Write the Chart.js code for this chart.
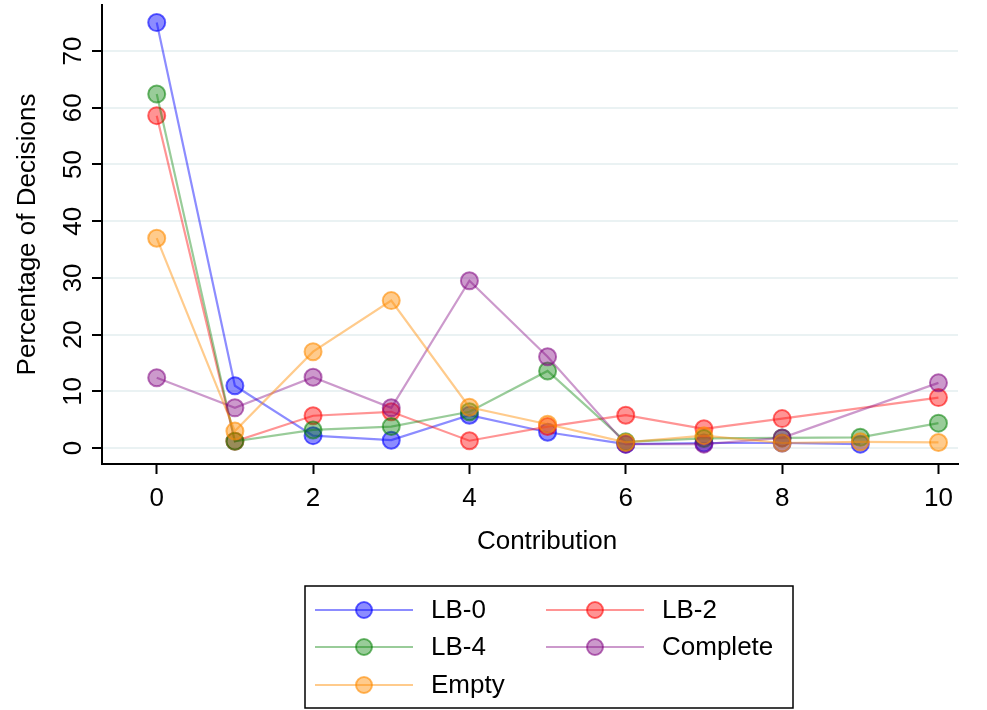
<!DOCTYPE html>
<html>
<head>
<meta charset="utf-8">
<script src="https://cdn.jsdelivr.net/npm/chart.js@4.4.1/dist/chart.umd.min.js"></script>
<style>
  html, body { margin: 0; padding: 0; background: #fff; }
  #c { display: block; }
</style>
</head>
<body>
<canvas id="c" width="987" height="710"></canvas>
<script>
const contributions = [0, 1, 2, 3, 4, 5, 6, 7, 8, 9, 10];
const lb0      = [75.0, 11.0, 2.2, 1.4, 5.8, 2.8, 0.7, 0.9, 0.9, 0.7, null];
const lb2      = [58.6, 1.2, 5.7, 6.4, 1.3, 3.8, 5.8, 3.4, 5.2, null, 8.9];
const lb4      = [62.4, 1.2, 3.2, 3.8, 6.4, 13.6, 1.1, 1.7, 1.8, 1.9, 4.4];
const empty    = [37.0, 3.0, 17.0, 26.0, 7.2, 4.2, 1.0, 2.2, 0.9, 1.1, 1.0];
const complete = [12.4, 7.1, 12.5, 7.1, 29.5, 16.1, 0.7, 0.7, 1.8, null, 11.5];
const xTicks = [0, 2, 4, 6, 8, 10];
const yTicks = [0, 10, 20, 30, 40, 50, 60, 70];

const FONT = "'Liberation Sans', Arial, sans-serif";

function series(label, values, rgb, a, order) {
  return {
    label,
    order,
    data: values.map((v, i) => ({ x: contributions[i], y: v })),
    borderColor: `rgba(${rgb},${a})`,
    backgroundColor: `rgba(${rgb},${a})`,
    pointBackgroundColor: `rgba(${rgb},${a})`,
    pointBorderColor: `rgba(${rgb},${a + 0.15})`,
    pointRadius: 8.5,
    pointBorderWidth: 2,
    borderWidth: 2.2,
    spanGaps: true,
    tension: 0
  };
}

// legend order: LB-0, LB-2 / LB-4, Complete / Empty (Empty drawn on top)
const datasets = [
  series("LB-0", lb0, "0,0,255", 0.45, 5),
  series("LB-2", lb2, "255,0,0", 0.42, 4),
  series("LB-4", lb4, "0,128,0", 0.4, 3),
  series("Complete", complete, "128,0,128", 0.4, 2),
  series("Empty", empty, "255,140,0", 0.45, 1)
];

// rotated y tick labels, axis titles and the boxed legend
const decorations = {
  id: "decorations",
  afterDraw(chart) {
    const ctx = chart.ctx;
    const y = chart.scales.y;
    ctx.save();
    ctx.fillStyle = "#000";
    ctx.font = `26px ${FONT}`;
    ctx.textAlign = "center";
    ctx.textBaseline = "alphabetic";
    yTicks.forEach(t => {
      ctx.save();
      ctx.translate(81, y.getPixelForValue(t));
      ctx.rotate(-Math.PI / 2);
      ctx.fillText(String(t), 0, 0);
      ctx.restore();
    });

    ctx.save();
    ctx.translate(35, (chart.chartArea.top + chart.chartArea.bottom) / 2);
    ctx.rotate(-Math.PI / 2);
    ctx.fillText("Percentage of Decisions", 0, 0);
    ctx.restore();

    ctx.fillText("Contribution", 547, 549);

    // legend
    ctx.strokeStyle = "#000";
    ctx.lineWidth = 1.5;
    ctx.strokeRect(305, 586, 488, 122);
    const cols = [315, 546];
    const rows = [610, 647, 685];
    ctx.textAlign = "left";
    ctx.textBaseline = "middle";
    datasets.forEach((ds, i) => {
      const cx = cols[i % 2], cy = rows[Math.floor(i / 2)];
      ctx.strokeStyle = ds.borderColor;
      ctx.lineWidth = 2.2;
      ctx.beginPath();
      ctx.moveTo(cx, cy);
      ctx.lineTo(cx + 98, cy);
      ctx.stroke();
      ctx.beginPath();
      ctx.arc(cx + 49, cy, 8, 0, Math.PI * 2);
      ctx.fillStyle = ds.pointBackgroundColor;
      ctx.fill();
      ctx.strokeStyle = ds.pointBorderColor;
      ctx.lineWidth = 2;
      ctx.stroke();
      ctx.fillStyle = "#000";
      ctx.fillText(ds.label, cx + 116, cy + 1);
    });
    ctx.restore();
  }
};

new Chart(document.getElementById("c"), {
  type: "line",
  data: { datasets },
  plugins: [decorations],
  options: {
    responsive: false,
    animation: false,
    layout: { autoPadding: false, padding: { top: 5, right: 29, left: 0, bottom: 0 } },
    plugins: { legend: { display: false }, tooltip: { enabled: false } },
    scales: {
      x: {
        type: "linear",
        min: -0.7,
        max: 10.25,
        afterBuildTicks: s => { s.ticks = xTicks.map(v => ({ value: v })); },
        afterFit: s => { s.height = 246; },
        grid: { drawOnChartArea: false, tickLength: 10, tickColor: "#000", tickWidth: 2 },
        border: { color: "#000", width: 2 },
        ticks: { color: "#000", font: { size: 26, family: FONT }, padding: 9, maxRotation: 0 }
      },
      y: {
        min: -2.8,
        max: 78.1,
        afterBuildTicks: s => { s.ticks = yTicks.map(v => ({ value: v })); },
        afterFit: s => { s.width = 102; },
        grid: { color: "#eaf2f3", lineWidth: 2, tickLength: 10, tickColor: "#000", tickWidth: 2 },
        border: { color: "#000", width: 2 },
        ticks: { display: false }
      }
    }
  }
});
</script>
</body>
</html>
